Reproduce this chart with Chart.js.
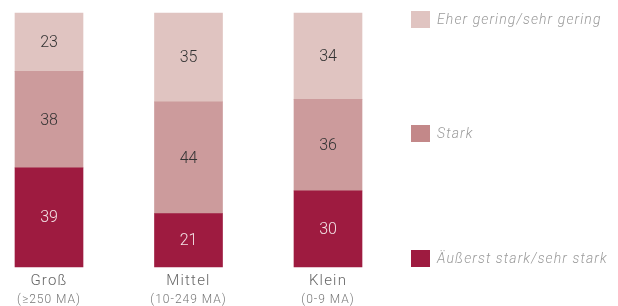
<!DOCTYPE html>
<html><head><meta charset="utf-8">
<script src="https://cdn.jsdelivr.net/npm/chart.js@4"></script>
<style>html,body{margin:0;padding:0;background:#fff}#wrap{width:618px;height:306px;position:relative}</style>
</head><body><div id="wrap"><canvas id="c" width="618" height="306"></canvas></div>
<script>
const categories = ["Groß", "Mittel", "Klein"];
const subLabels = ["(≥250 MA)", "(10-249 MA)", "(0-9 MA)"];
const seriesNames = ["Äußerst stark/sehr stark", "Stark", "Eher gering/sehr gering"];
const aeusserstStark = [39, 21, 30];
const stark = [38, 44, 36];
const eherGering = [23, 35, 34];
const colors = ["#9e1b40", "#cc9b9c", "#e0c4c1"];
const legendColors = ["#9e1b40", "#c38889", "#e0c4c1"];
const labelColors = ["#f3e2e5", "#333333", "#333333"];
const FONT = "Roboto, 'Liberation Sans', Arial, sans-serif";

const labelsPlugin = {
  id: 'lbls',
  afterDatasetsDraw(chart) {
    const ctx = chart.ctx;
    const ls = v => { if (ctx.letterSpacing !== undefined) ctx.letterSpacing = v; };
    ctx.save();
    ctx.textAlign = 'center'; ctx.textBaseline = 'middle';
    ctx.font = "300 16px " + FONT;
    chart.data.datasets.forEach((ds, di) => {
      chart.getDatasetMeta(di).data.forEach((el, i) => {
        const p = el.getCenterPoint();
        ctx.fillStyle = labelColors[di];
        ctx.fillText(String(ds.data[i]), p.x, p.y + 1);
      });
    });
    // category labels
    const xs = chart.scales.x, ca = chart.chartArea;
    categories.forEach((c, i) => {
      const x = xs.getPixelForValue(i);
      ctx.fillStyle = '#666';
      ctx.font = "300 15px " + FONT;
      ls('1.2px');
      ctx.fillText(c, x, ca.bottom + 14);
      ctx.font = "300 12px " + FONT;
      ctx.fillStyle = '#777';
      ls('1px');
      ctx.fillText(subLabels[i], x, ca.bottom + 33);
      ls('0px');
    });
    // legend
    const lx = 411;
    const tops = [ca.bottom - 17, (ca.top + ca.bottom) / 2 - 15, ca.top - 2];
    ctx.textAlign = 'left';
    ctx.font = "italic 300 14px " + FONT;
    [0, 1, 2].forEach(k => {
      ctx.fillStyle = legendColors[k];
      ctx.fillRect(lx, tops[k], 19, 17);
      ctx.fillStyle = '#9a9a9a';
      ls('1.1px');
      ctx.fillText(seriesNames[k], lx + 26, tops[k] + 9);
    });
    ls('0px');
    ctx.restore();
  }
};

new Chart(document.getElementById('c'), {
  type: 'bar',
  data: {
    labels: categories,
    datasets: [
      { label: seriesNames[0], data: aeusserstStark, backgroundColor: colors[0] },
      { label: seriesNames[1], data: stark, backgroundColor: colors[1] },
      { label: seriesNames[2], data: eherGering, backgroundColor: colors[2] }
    ].map(d => Object.assign(d, { barThickness: 68, borderWidth: 0, clip: false }))
  },
  options: {
    responsive: false, animation: false,
    layout: { padding: { left: 49, right: 618 - 328, top: 13, bottom: 39 } },
    plugins: { legend: { display: false }, tooltip: { enabled: false } },
    scales: {
      x: { stacked: true, display: false, offset: false },
      y: { stacked: true, display: false, min: 0, max: 100 }
    }
  },
  plugins: [labelsPlugin]
});
</script></body></html>
